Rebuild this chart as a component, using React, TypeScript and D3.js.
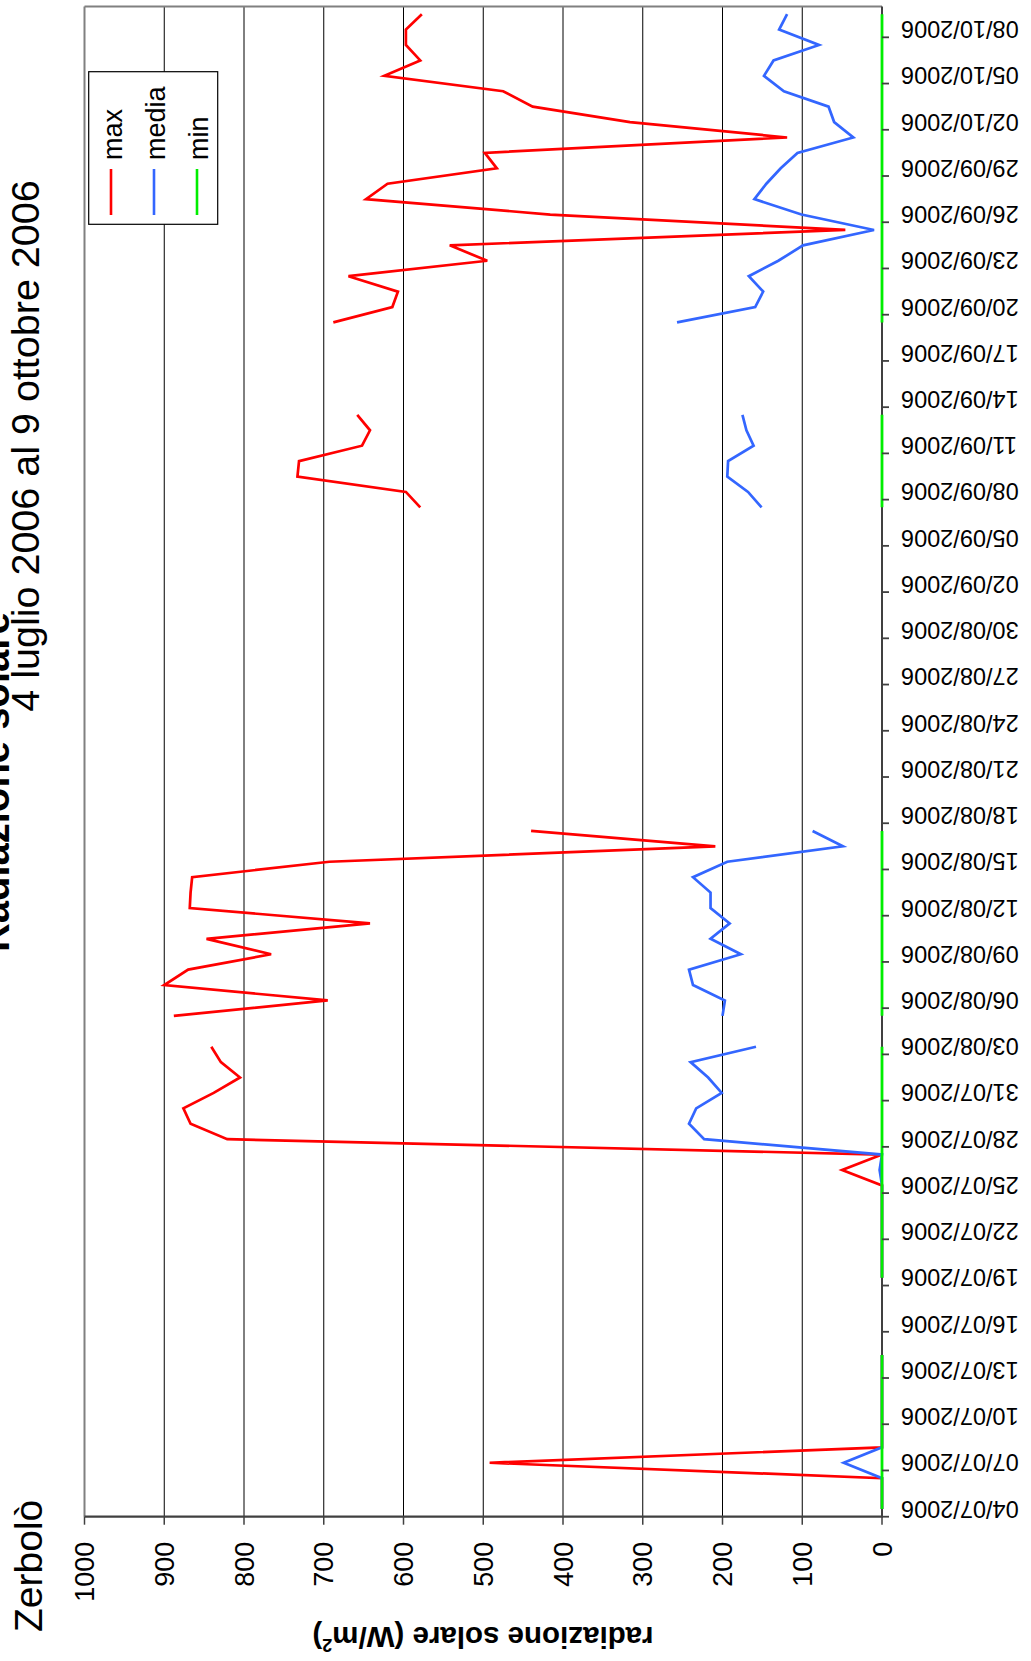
import React from 'react';
import * as d3 from 'd3';

// ---------- data ----------
const categories: string[] = d3
  .timeDay.range(new Date(2006, 6, 4), new Date(2006, 9, 10))
  .map((d) => d3.timeFormat('%d/%m/%Y')(d));

const tickLabels: string[] = [
  '04/07/2006', '07/07/2006', '10/07/2006', '13/07/2006', '16/07/2006', '19/07/2006',
  '22/07/2006', '25/07/2006', '28/07/2006', '31/07/2006', '03/08/2006', '06/08/2006',
  '09/08/2006', '12/08/2006', '15/08/2006', '18/08/2006', '21/08/2006', '24/08/2006',
  '27/08/2006', '30/08/2006', '02/09/2006', '05/09/2006', '08/09/2006', '11/09/2006',
  '14/09/2006', '17/09/2006', '20/09/2006', '23/09/2006', '26/09/2006', '29/09/2006',
  '02/10/2006', '05/10/2006', '08/10/2006',
];

const valueTicks: number[] = [0, 100, 200, 300, 400, 500, 600, 700, 800, 900, 1000];

const maxValues: (number | null)[] = [
  0, 0, 0, 492, 0, 0, 0, 0, 0, 0, 0,
  null, null, null, null,
  0, 0, 0, 0, 0, 0, 0,
  50, 0,
  821, 867, 876, 838, 805, 829, 841,
  null,
  888, 695, 900, 870, 766, 847, 642, 868, 867, 865, 693, 209, 440,
  null, null, null, null, null, null, null, null, null, null,
  null, null, null, null, null, null, null, null, null, null,
  579, 597, 733, 731, 652, 642, 658,
  null, null, null, null, null,
  688, 614, 607, 669, 495, 542, 46, 416, 647, 620, 483, 498, 119, 316, 438, 475, 624, 579, 597, 597, 577,
];

const mediaValues: (number | null)[] = [
  0, 0, 0, 48, 0, 0, 0, 0, 0, 0, 0,
  null, null, null, null,
  0, 0, 0, 0, 0, 0, 0,
  3, 0,
  223, 242, 233, 201, 218, 240, 158,
  null,
  200, 197, 237, 242, 177, 215, 191, 215, 215, 237, 194, 49, 87,
  null, null, null, null, null, null, null, null, null, null,
  null, null, null, null, null, null, null, null, null, null,
  151, 168, 194, 193, 161, 170, 175,
  null, null, null, null, null,
  257, 159, 149, 167, 130, 99, 10, 101, 160, 145, 127, 106, 36, 60, 67, 123, 148, 136, 79, 129, 119,
];

const minValues: (number | null)[] = [
  0, 0, 0, 0, 0, 0, 0, 0, 0, 0, 0,
  null, null, null, null,
  0, 0, 0, 0, 0, 0, 0,
  0, 0,
  0, 0, 0, 0, 0, 0, 0,
  null,
  0, 0, 0, 0, 0, 0, 0, 0, 0, 0, 0, 0, 0,
  null, null, null, null, null, null, null, null, null, null,
  null, null, null, null, null, null, null, null, null, null,
  0, 0, 0, 0, 0, 0, 0,
  null, null, null, null, null,
  0, 0, 0, 0, 0, 0, 0, 0, 0, 0, 0, 0, 0, 0, 0, 0, 0, 0, 0, 0, 0,
];

const seriesNames = ['max', 'media', 'min'];
const seriesColors = ['#ff0000', '#3366ff', '#00ee00'];

// ---------- layout ----------
const W = 1031;
const H = 1661;
const plotLeft = 84.5;
const plotRight = 882;
const plotTop = 6.5;
const plotBottom = 1516.7;
const FONT = 'Liberation Sans, Arial, Helvetica, sans-serif';

export default function App() {
  const xVal = d3.scaleLinear().domain([0, 1000]).range([plotRight, plotLeft]);
  const yCat = d3
    .scaleBand<number>()
    .domain(categories.map((_, i) => i))
    .range([plotBottom, plotTop])
    .paddingInner(0)
    .paddingOuter(0);
  const bw = yCat.bandwidth();
  const cy = (i: number) => (yCat(i) as number) + bw / 2;

  const mkLine = (vals: (number | null)[]) =>
    d3
      .line<number | null>()
      .defined((d) => d !== null)
      .x((d) => xVal(d as number))
      .y((_, i) => cy(i))(vals) as string;

  const series = [maxValues, mediaValues];

  const legendX0 = 88.7;
  const legendY0 = 71.7;
  const legendLineX = [111, 154, 197];

  return (
    <svg
      width={W}
      height={H}
      style={{ position: 'absolute', left: 0, top: 0, background: '#fff' }}
      fontFamily={FONT}
    >
      <rect x={0} y={0} width={W} height={H} fill="#fff" />
      {/* gridlines */}
      {valueTicks
        .filter((v) => v > 0 && v < 1000)
        .map((v) => (
          <line key={'g' + v} x1={xVal(v)} x2={xVal(v)} y1={plotTop} y2={plotBottom} stroke="#000" strokeWidth={1} />
        ))}
      {/* plot border */}
      <line x1={plotLeft} x2={plotLeft} y1={plotTop} y2={plotBottom} stroke="#808080" strokeWidth={2} />
      <line x1={plotLeft} x2={plotRight} y1={plotTop} y2={plotTop} stroke="#808080" strokeWidth={2} />

      {/* series */}
      {series.map((vals, k) => (
        <path
          key={'s' + k}
          d={mkLine(vals)}
          fill="none"
          stroke={seriesColors[k]}
          strokeWidth={2.7}
          strokeLinejoin="miter"
          strokeLinecap="butt"
        />
      ))}

      {/* value axis (bottom) */}
      <line x1={plotLeft} x2={plotRight + 1} y1={plotBottom} y2={plotBottom} stroke="#404040" strokeWidth={2.2} />
      {valueTicks.map((v) => (
        <g key={'vt' + v}>
          <line x1={xVal(v)} x2={xVal(v)} y1={plotBottom} y2={plotBottom + 8} stroke="#404040" strokeWidth={1.5} />
          <text
            transform={`translate(${xVal(v)},${1541.7}) rotate(-90)`}
            textAnchor="end"
            dy="0.36em"
            fontSize={27}
            fill="#000"
          >
            {v}
          </text>
        </g>
      ))}

      {/* category axis (right) */}
      <line x1={plotRight} x2={plotRight} y1={plotTop} y2={plotBottom} stroke="#404040" strokeWidth={2} />
      {/* min drawn over axis */}
      <path d={mkLine(minValues)} fill="none" stroke={seriesColors[2]} strokeWidth={2.8} />
      {tickLabels.map((lab) => {
        const i = categories.indexOf(lab);
        const yTick = (yCat(i) as number) + bw;
        return (
          <g key={'ct' + lab}>
            <line x1={plotRight} x2={plotRight + 7} y1={yTick} y2={yTick} stroke="#404040" strokeWidth={1.8} />
            <text
              transform={`translate(${901},${cy(i)}) rotate(180)`}
              textAnchor="end"
              dy="0.36em"
              fontSize={23.5}
              fill="#000"
            >
              {lab}
            </text>
          </g>
        );
      })}

      {/* legend */}
      <rect x={legendX0} y={legendY0} width={129} height={152.6} fill="#fff" stroke="#000" strokeWidth={1.2} />
      {seriesNames.map((name, k) => (
        <g key={'lg' + name}>
          <line
            x1={legendLineX[k]}
            x2={legendLineX[k]}
            y1={169}
            y2={215}
            stroke={seriesColors[k]}
            strokeWidth={2.6}
          />
          <text
            transform={`translate(${legendLineX[k] + 10.5},${160}) rotate(-90)`}
            textAnchor="start"
            fontSize={27}
            fill="#000"
          >
            {name}
          </text>
        </g>
      ))}

      {/* axis title */}
      <text
        transform={`translate(${483},${1627}) rotate(180)`}
        textAnchor="middle"
        fontSize={29.5}
        fontWeight="bold"
        fill="#000"
      >
        radiazione solare (W/m
        <tspan fontSize={18} dy={-12}>2</tspan>
        <tspan dy={12}>)</tspan>
      </text>

      {/* titles */}
      <text transform={`translate(${9},${782}) rotate(-90)`} textAnchor="middle" fontSize={40} fontWeight="bold" fill="#000">
        Radiazione solare
      </text>
      <text transform={`translate(${39},${446}) rotate(-90)`} textAnchor="middle" fontSize={39.5} fill="#000">
        4 luglio 2006 al 9 ottobre 2006
      </text>
      <text transform={`translate(${42},${1632}) rotate(-90)`} textAnchor="start" fontSize={39} fill="#000">
        Zerbolò
      </text>
    </svg>
  );
}
